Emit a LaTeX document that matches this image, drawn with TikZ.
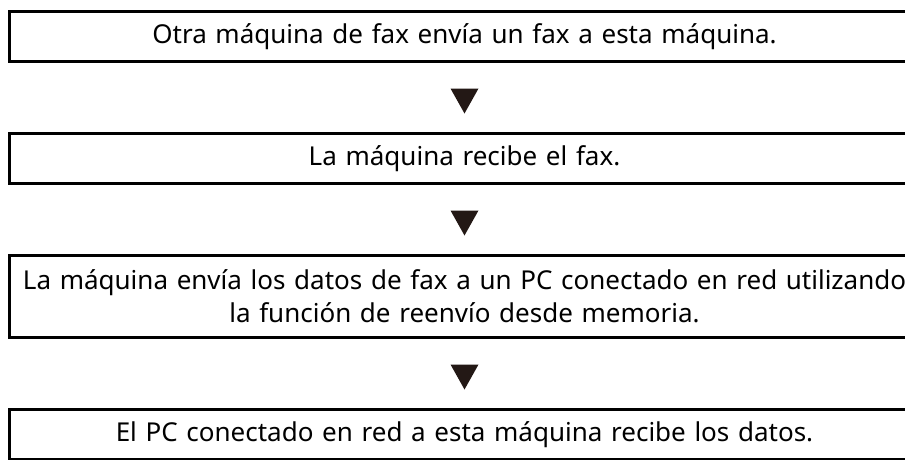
\documentclass[tikz,border=0pt]{standalone}
\usepackage{fontspec}
\setmainfont{Noto Sans}
\usetikzlibrary{positioning}
\definecolor{flechacolor}{RGB}{35,24,21}
\tikzset{
  paso/.style={draw, rectangle, line width=3pt, outer sep=0pt,
    minimum width=910pt, minimum height=50pt, text width=900pt,
    align=center, font=\fontsize{26}{33}\selectfont},
}
\newcommand{\flecha}[1]{\fill[flechacolor] ([yshift=-27pt]#1.south) ++(-14pt,0) -- ++(28pt,0) -- ++(-14pt,-25pt) -- cycle;}

\begin{document}
\begin{tikzpicture}[node distance=72pt]
    \useasboundingbox (0,0) rectangle (905pt,-459pt);
    \clip (0,0) rectangle (905pt,-459pt);
    \node (envio) [paso, anchor=north west] at (9.5pt,-11.5pt) {Otra máquina de fax envía un fax a esta máquina.};
    \node (recibe) [paso, below=of envio] {La máquina recibe el fax.};
    \node (reenvio) [paso, minimum height=82pt, below=of recibe] {La máquina envía los datos de fax a un PC conectado en red utilizando\\la función de reenvío desde memoria.};
    \node (pc) [paso, below=of reenvio] {El PC conectado en red a esta máquina recibe los datos.};

    \flecha{envio}
    \flecha{recibe}
    \flecha{reenvio}
\end{tikzpicture}
\end{document}
